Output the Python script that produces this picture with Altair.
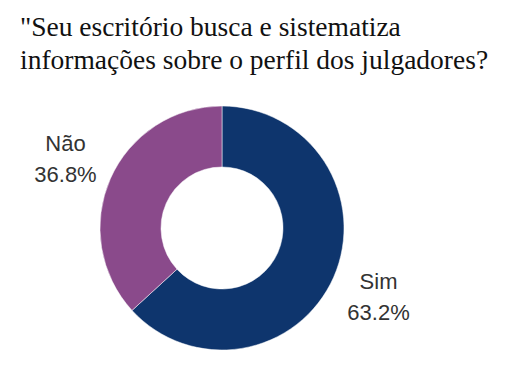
import altair as alt
import pandas as pd

categories = ["Sim", "Não"]
values = [63.2, 36.8]
colors = ["#0e356d", "#8a4a8b"]
order = [0, 1]

df = pd.DataFrame({
    "cat": categories,
    "val": values,
    "ord": order,
    "label": [f"{c}\n{v:.1f}%" for c, v in zip(categories, values)],
})

cx, cy = 214, 145

base = alt.Chart(df).encode(
    theta=alt.Theta("val:Q", stack=True),
    order=alt.Order("ord:Q"),
)

arc = base.mark_arc(outerRadius=122, innerRadius=61, stroke="white", strokeWidth=0.5).encode(
    color=alt.Color("cat:N", scale=alt.Scale(domain=categories, range=colors), legend=None),
    x=alt.value(cx), y=alt.value(cy),
)

text = base.mark_text(radius=171, fontSize=22, font="Liberation Sans", color="#333333",
                      lineBreak="\n", lineHeight=31, baseline="middle", align="center", dy=-15).encode(
    text="label:N",
    x=alt.value(cx), y=alt.value(cy),
)

chart = alt.layer(arc, text).properties(
    width=490, height=288,
    autosize=alt.AutoSizeParams(type="none"),
    padding={"left": 0, "top": 75, "right": 0, "bottom": 0},
    title=alt.TitleParams(
        text=["\"Seu escritório busca e sistematiza", "informações sobre o perfil dos julgadores?"],
        anchor="start", font="Liberation Serif", fontSize=27.5, fontWeight="normal",
        color="#111111", lineHeight=33, dx=12, offset=9,
    ),
).configure_view(stroke=None)

chart.save("out.html", embed_options={"renderer": "svg", "actions": False})
